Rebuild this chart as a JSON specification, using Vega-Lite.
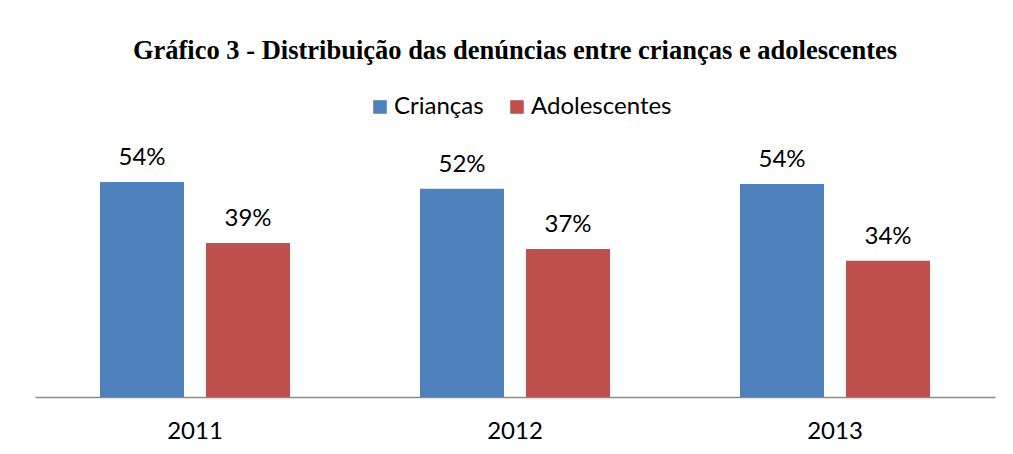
{
  "$schema": "https://vega.github.io/schema/vega-lite/v6.json",
  "width": 960,
  "height": 257,
  "autosize": "none",
  "padding": {"left": 35, "top": 140, "right": 18, "bottom": 57},
  "background": "white",
  "title": {
    "text": "Gráfico 3 - Distribuição das denúncias entre crianças e adolescentes",
    "font": "Liberation Serif",
    "fontSize": 26.5,
    "fontWeight": "bold",
    "color": "#000000",
    "anchor": "middle",
    "baseline": "alphabetic",
    "offset": 10
  },
  "config": {"view": {"stroke": null}},
  "data": {
    "values": [
      {"ano": "2011", "grupo": "Crianças", "valor": 0.54},
      {"ano": "2011", "grupo": "Adolescentes", "valor": 0.387},
      {"ano": "2012", "grupo": "Crianças", "valor": 0.523},
      {"ano": "2012", "grupo": "Adolescentes", "valor": 0.372},
      {"ano": "2013", "grupo": "Crianças", "valor": 0.535},
      {"ano": "2013", "grupo": "Adolescentes", "valor": 0.342}
    ]
  },
  "encoding": {
    "x": {
      "field": "ano",
      "type": "nominal",
      "scale": {"paddingInner": 0, "paddingOuter": 0},
      "axis": {
        "title": null,
        "labelAngle": 0,
        "ticks": false,
        "domainColor": "#8c8c8c",
        "domainWidth": 1.5,
        "labelFont": "Lato",
        "labelFontSize": 24,
        "labelColor": "#000000",
        "labelPadding": 22,
        "grid": false
      }
    },
    "xOffset": {
      "field": "grupo",
      "type": "nominal",
      "sort": ["Crianças", "Adolescentes"],
      "scale": {"paddingInner": 0.2075, "paddingOuter": 0.613}
    },
    "y": {
      "field": "valor",
      "type": "quantitative",
      "scale": {"domain": [0, 0.6455]},
      "axis": null
    }
  },
  "layer": [
    {
      "mark": {"type": "bar"},
      "encoding": {
        "color": {
          "field": "grupo",
          "type": "nominal",
          "sort": ["Crianças", "Adolescentes"],
          "scale": {"domain": ["Crianças", "Adolescentes"], "range": ["#4F81BD", "#C0504D"]},
          "legend": {
            "title": null,
            "orient": "none",
            "direction": "horizontal",
            "legendX": 333,
            "legendY": -45,
            "symbolType": "square",
            "symbolSize": 185,
            "symbolStrokeWidth": 0,
            "labelFont": "Lato",
            "labelFontSize": 24,
            "labelColor": "#000000",
            "labelOffset": 2,
            "columnPadding": 21
          }
        }
      }
    },
    {
      "mark": {"type": "text", "font": "Lato", "fontSize": 24, "color": "#000000", "baseline": "middle", "dy": -24},
      "encoding": {
        "text": {"field": "valor", "type": "quantitative", "format": ".0%"}
      }
    }
  ]
}
